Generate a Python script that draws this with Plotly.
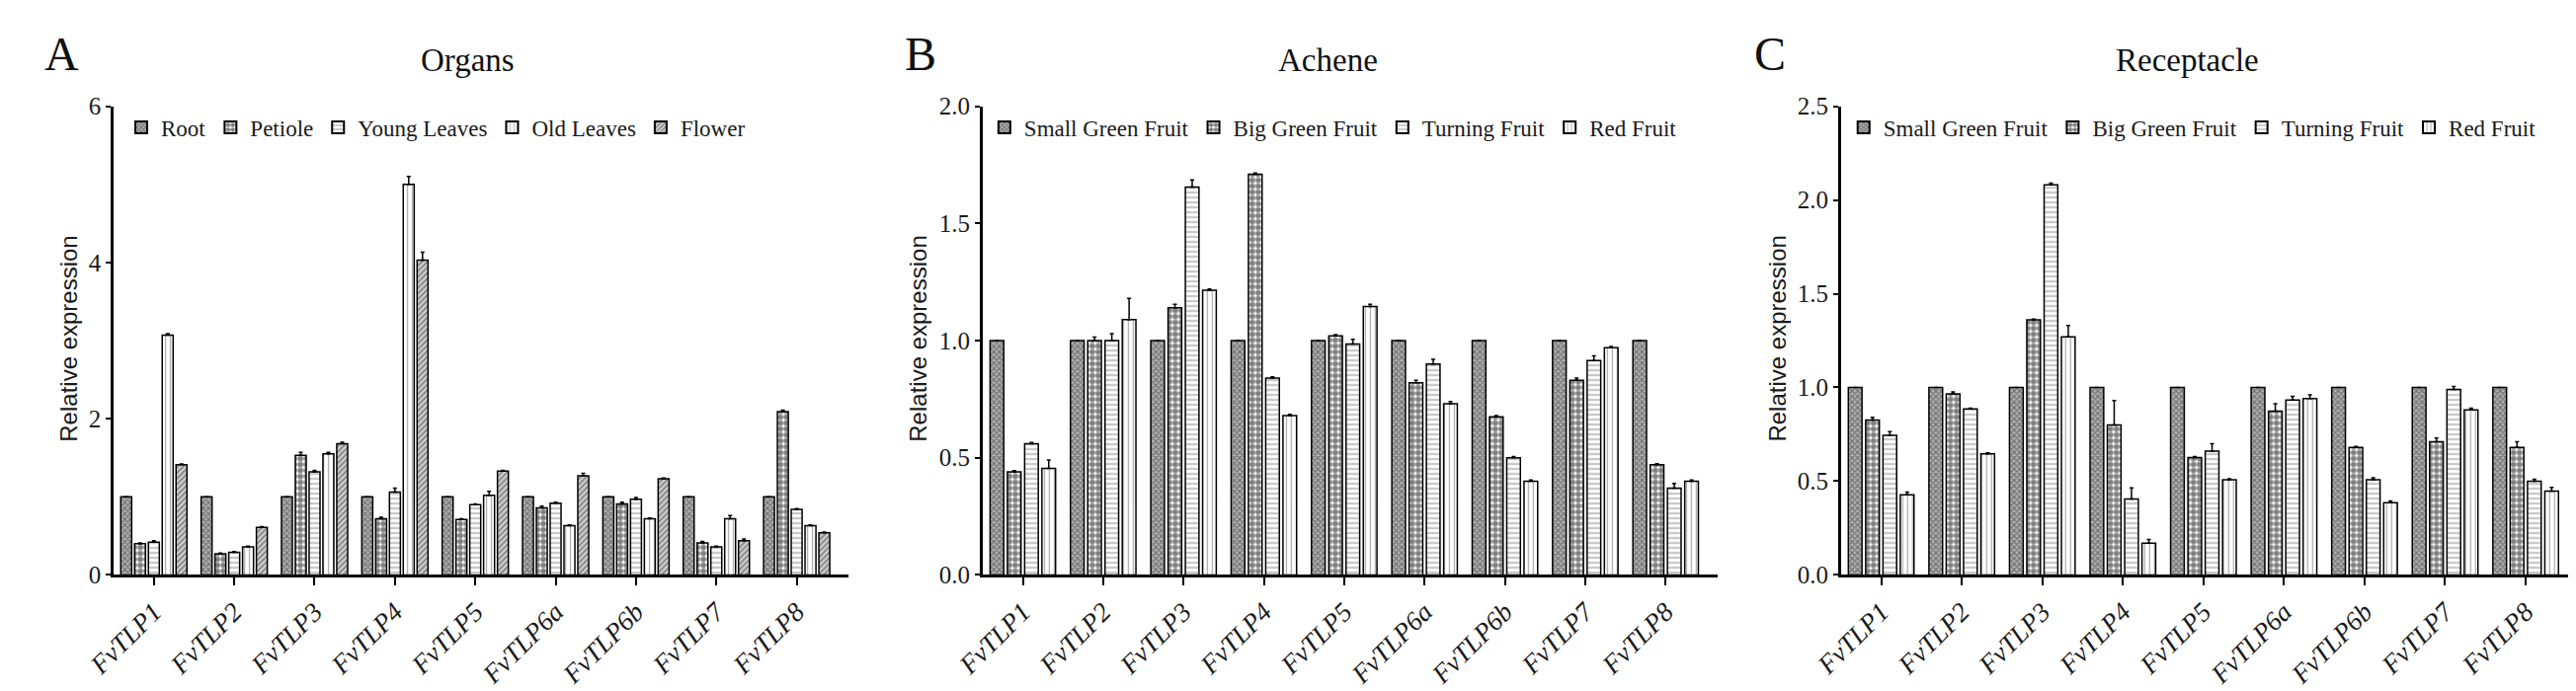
import plotly.graph_objects as go

genes = ["FvTLP1", "FvTLP2", "FvTLP3", "FvTLP4", "FvTLP5", "FvTLP6a", "FvTLP6b", "FvTLP7", "FvTLP8"]

# Panel A: Organs
organ_names = ["Root", "Petiole", "Young Leaves", "Old Leaves", "Flower"]
organ_root = [1, 1, 1, 1, 1, 1, 1, 1, 1]
organ_petiole = [0.40, 0.27, 1.53, 0.72, 0.71, 0.86, 0.91, 0.41, 2.09]
organ_young = [0.42, 0.29, 1.32, 1.06, 0.90, 0.92, 0.97, 0.36, 0.84]
organ_old = [3.07, 0.36, 1.55, 5.00, 1.02, 0.63, 0.72, 0.72, 0.63]
organ_flower = [1.41, 0.61, 1.68, 4.03, 1.33, 1.27, 1.23, 0.44, 0.54]
organ_root_err = [0, 0, 0, 0, 0, 0, 0, 0, 0]
organ_petiole_err = [0.01, 0.01, 0.04, 0.02, 0.01, 0.02, 0.02, 0.02, 0.02]
organ_young_err = [0.02, 0.01, 0.02, 0.05, 0.01, 0.01, 0.02, 0.01, 0.01]
organ_old_err = [0.02, 0.01, 0.02, 0.10, 0.05, 0.01, 0.01, 0.04, 0.01]
organ_flower_err = [0.01, 0.01, 0.02, 0.10, 0.01, 0.03, 0.01, 0.02, 0.01]

# Panel B: Achene
fruit_names = ["Small Green Fruit", "Big Green Fruit", "Turning Fruit", "Red Fruit"]
achene_sgf = [1, 1, 1, 1, 1, 1, 1, 1, 1]
achene_bgf = [0.44, 1.00, 1.14, 1.71, 1.02, 0.82, 0.675, 0.83, 0.47]
achene_tf = [0.56, 1.00, 1.655, 0.84, 0.985, 0.90, 0.50, 0.915, 0.37]
achene_rf = [0.455, 1.09, 1.215, 0.68, 1.145, 0.73, 0.40, 0.97, 0.40]
achene_sgf_err = [0, 0, 0, 0, 0, 0, 0, 0, 0]
achene_bgf_err = [0.005, 0.015, 0.015, 0.005, 0.005, 0.01, 0.005, 0.01, 0.005]
achene_tf_err = [0.005, 0.03, 0.03, 0.005, 0.02, 0.02, 0.005, 0.02, 0.02]
achene_rf_err = [0.035, 0.09, 0.005, 0.005, 0.01, 0.01, 0.005, 0.005, 0.005]

# Panel C: Receptacle
recep_sgf = [1, 1, 1, 1, 1, 1, 1, 1, 1]
recep_bgf = [0.826, 0.966, 1.36, 0.80, 0.626, 0.873, 0.68, 0.71, 0.68]
recep_tf = [0.745, 0.885, 2.08, 0.405, 0.66, 0.933, 0.508, 0.99, 0.50]
recep_rf = [0.427, 0.646, 1.27, 0.17, 0.508, 0.941, 0.385, 0.88, 0.447]
recep_sgf_err = [0, 0, 0, 0, 0, 0, 0, 0, 0]
recep_bgf_err = [0.015, 0.01, 0.005, 0.13, 0.005, 0.04, 0.005, 0.02, 0.03]
recep_tf_err = [0.02, 0.005, 0.01, 0.06, 0.04, 0.02, 0.01, 0.015, 0.01]
recep_rf_err = [0.015, 0.005, 0.06, 0.02, 0.005, 0.02, 0.01, 0.01, 0.02]

SERIF = "Liberation Serif"
SANS = "Liberation Sans"

pat_grey = dict(shape="x", size=4, solidity=0.5, fgcolor="#333333", bgcolor="#b0b0b0")
pat_check = dict(shape=".", size=6, solidity=0.7, fgcolor="#000000", bgcolor="#ffffff")
pat_horiz = dict(shape="-", size=5, solidity=0.3, fgcolor="#555555", bgcolor="#ffffff")
pat_vert = dict(shape="|", size=5, solidity=0.25, fgcolor="#555555", bgcolor="#ffffff")
pat_diag = dict(shape="/", size=4, solidity=0.45, fgcolor="#333333", bgcolor="#d0d0d0")

fig = go.Figure()


def add_bar(name, y, err, pat, xa, ya, leg):
    fig.add_trace(go.Bar(
        x=genes, y=y, name=name,
        xaxis=xa, yaxis=ya, legend=leg,
        marker=dict(color="white", pattern=pat, line=dict(color="black", width=1.5)),
        error_y=dict(type="data", array=err, arrayminus=[0] * len(err), symmetric=False,
                     color="black", thickness=1.5, width=2),
    ))


organ_vals = [organ_root, organ_petiole, organ_young, organ_old, organ_flower]
organ_errs = [organ_root_err, organ_petiole_err, organ_young_err, organ_old_err, organ_flower_err]
organ_pats = [pat_grey, pat_check, pat_horiz, pat_vert, pat_diag]
for n, v, e, p in zip(organ_names, organ_vals, organ_errs, organ_pats):
    add_bar(n, v, e, p, "x", "y", "legend")

fruit_pats = [pat_grey, pat_check, pat_horiz, pat_vert]
for n, v, e, p in zip(fruit_names, [achene_sgf, achene_bgf, achene_tf, achene_rf],
                      [achene_sgf_err, achene_bgf_err, achene_tf_err, achene_rf_err], fruit_pats):
    add_bar(n, v, e, p, "x2", "y2", "legend2")

for n, v, e, p in zip(fruit_names, [recep_sgf, recep_bgf, recep_tf, recep_rf],
                      [recep_sgf_err, recep_bgf_err, recep_tf_err, recep_rf_err], fruit_pats):
    add_bar(n, v, e, p, "x3", "y3", "legend3")

W, H = 2608, 700
y_dom = [1 - 584 / H, 1 - 90 / H]
doms = [[78 / W, 831 / W], [968 / W, 1721 / W], [1847 / W, 2602 / W]]


def xaxis(dom, anchor):
    return dict(domain=dom, anchor=anchor, range=[-0.5, 8.65], showline=True, linecolor="black",
                linewidth=2.5, ticks="outside", ticklen=8, tickwidth=2, tickcolor="black",
                tickangle=-45, tickfont=dict(family=SERIF, size=27, color="#1a1a1a", style="italic"),
                showgrid=False, zeroline=False)


def yaxis(dom, anchor, rng, dtick, fmt):
    return dict(domain=dom, anchor=anchor, range=rng, dtick=dtick, tickformat=fmt, showline=True,
                linecolor="black", linewidth=2.5, ticks="outside", ticklen=5, tickwidth=2,
                tickcolor="black", tickfont=dict(family=SERIF, size=25, color="#1a1a1a"),
                showgrid=False, zeroline=False)


def legend(x):
    return dict(orientation="h", x=x, xanchor="left", y=1 - 90 / H, yanchor="top",
                font=dict(family=SERIF, size=23, color="#1a1a1a"), bgcolor="rgba(0,0,0,0)",
                itemsizing="constant", traceorder="normal")


fig.update_layout(
    width=W, height=H, margin=dict(l=0, r=0, t=0, b=0),
    plot_bgcolor="white", paper_bgcolor="white",
    barmode="group", bargap=0.14, bargroupgap=0.21,
    xaxis=xaxis(doms[0], "y"), yaxis=yaxis(y_dom, "x", [0, 6], 2, "d"),
    xaxis2=xaxis(doms[1], "y2"), yaxis2=yaxis(y_dom, "x2", [0, 2], 0.5, ".1f"),
    xaxis3=xaxis(doms[2], "y3"), yaxis3=yaxis(y_dom, "x3", [0, 2.5], 0.5, ".1f"),
    legend=legend(86 / W), legend2=legend(970 / W), legend3=legend(1850 / W),
)

annots = [
    ("A", 25, 35, 48, SERIF), ("B", 904, 35, 48, SERIF), ("C", 1774, 35, 48, SERIF),
    ("Organs", 441, 42, 33, SERIF), ("Achene", 1322, 42, 33, SERIF), ("Receptacle", 2202, 42, 33, SERIF),
]
for t, x, y, s, f in annots:
    fig.add_annotation(text=t, x=x / W, y=1 - y / H, xref="paper", yref="paper", showarrow=False,
                       xanchor="center", yanchor="middle", font=dict(family=f, size=s, color="#111"))
for x in [31, 901, 1782]:
    fig.add_annotation(text="Relative expression", x=x / W, y=1 - 335 / H, xref="paper", yref="paper",
                       showarrow=False, textangle=-90, xanchor="center", yanchor="middle",
                       font=dict(family=SANS, size=24, color="#1a1a1a"))

fig.write_html("out.html")
